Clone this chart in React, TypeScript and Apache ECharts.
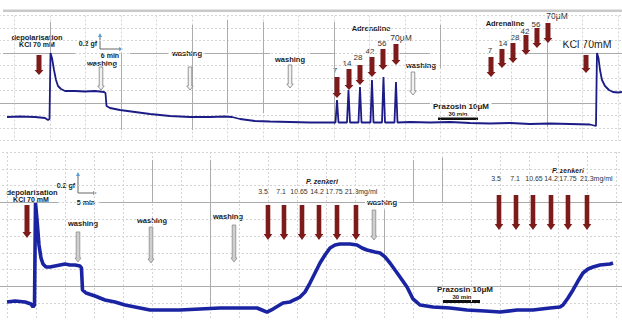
import { useEffect, useRef } from "react";
import * as echarts from "echarts";

// ---------- DATA (time in min, tension in gf) ----------
// Upper recording: KCl, washings, adrenaline cumulative doses, prazosin, adrenaline, KCl
const topTrace: [number, number][] = [
  [7.89, 0.282], [11.55, 0.288], [15.77, 0.282], [18.59, 0.27], [19.44, 0.246], [19.86, 0.258],
  [20.14, 1.05], [20.56, 0.99], [21.13, 0.846], [21.69, 0.726], [22.25, 0.654], [23.1, 0.618],
  [24.23, 0.594], [27.04, 0.594], [29.86, 0.588], [32.68, 0.594], [35.21, 0.582], [35.63, 0.57],
  [35.92, 0.414], [36.9, 0.39], [39.72, 0.366], [43.94, 0.342], [48.17, 0.318], [53.8, 0.294],
  [59.44, 0.282], [65.07, 0.282], [69.3, 0.288], [71.27, 0.282], [73.52, 0.258], [77.75, 0.234],
  [81.97, 0.228], [87.61, 0.222], [93.24, 0.216], [99.72, 0.216],
  [100.42, 0.216], [100.85, 0.486], [101.27, 0.216],
  [103.66, 0.216], [104.08, 0.606], [104.51, 0.216],
  [106.9, 0.216], [107.32, 0.642], [107.75, 0.216],
  [110.28, 0.216], [110.7, 0.726], [111.13, 0.216],
  [113.52, 0.216], [113.94, 0.762], [114.37, 0.216],
  [117.04, 0.216], [117.46, 0.702], [117.89, 0.216],
  [121.41, 0.222], [127.04, 0.216], [132.68, 0.222], [138.31, 0.21], [143.94, 0.204],
  [149.58, 0.21], [155.21, 0.198], [160.85, 0.204], [166.48, 0.198], [172.11, 0.192],
  [173.24, 0.18], [173.8, 0.174], [174.08, 1.05], [174.51, 0.99], [174.93, 0.846],
  [175.49, 0.726], [176.34, 0.654], [177.46, 0.606], [178.59, 0.582], [180.0, 0.576], [181.13, 0.582],
];

// Lower recording: KCl, washings, P. zenkeri cumulative doses, prazosin, P. zenkeri
const bottomTrace: [number, number][] = [
  [7.5, 0.161], [9.57, 0.17], [12.15, 0.161], [13.71, 0.143], [14.22, 0.116], [14.61, 0.134],
  [14.87, 1.045], [15.26, 0.893], [15.77, 0.67], [16.29, 0.554], [16.81, 0.5], [17.58, 0.473],
  [18.62, 0.473], [19.91, 0.482], [21.21, 0.491], [22.5, 0.5], [23.79, 0.491], [25.08, 0.491],
  [26.38, 0.482], [26.76, 0.464], [27.02, 0.268], [27.93, 0.241], [30.26, 0.214], [32.84, 0.179],
  [35.43, 0.161], [38.01, 0.134], [41.89, 0.107], [44.48, 0.089], [48.36, 0.089], [52.24, 0.089],
  [57.41, 0.098], [62.58, 0.107], [67.75, 0.107], [72.15, 0.107], [73.44, 0.089], [74.73, 0.071],
  [76.29, 0.098], [78.87, 0.152], [80.68, 0.161], [83.27, 0.205], [84.56, 0.25], [85.85, 0.33],
  [87.15, 0.42], [88.44, 0.509], [89.73, 0.58], [91.03, 0.643], [92.32, 0.67], [93.61, 0.679],
  [96.2, 0.679], [98.01, 0.67], [99.3, 0.643], [100.59, 0.625], [102.66, 0.607], [103.96, 0.598],
  [105.25, 0.563], [106.54, 0.509], [107.84, 0.446], [109.13, 0.384], [110.94, 0.295],
  [112.49, 0.188], [114.3, 0.134], [117.66, 0.116], [122.06, 0.107], [126.45, 0.089],
  [131.11, 0.08], [134.99, 0.071], [139.38, 0.089], [143.52, 0.089], [147.92, 0.107],
  [150.5, 0.116], [151.28, 0.134], [152.57, 0.196], [153.87, 0.268], [155.16, 0.348],
  [156.45, 0.42], [157.75, 0.455], [159.04, 0.473], [160.85, 0.491], [163.43, 0.5], [164.21, 0.509],
];

// Drug additions: [time, arrow start tension, arrow tip tension]
const topKclArrows: [number, number, number][] = [
  [16.9, 1.026, 0.786], [170.99, 1.026, 0.81],
];
const topAdrenalineArrows: [number, number, number][] = [
  [100.85, 0.762, 0.51], [104.23, 0.858, 0.606], [107.32, 0.906, 0.666],
  [110.7, 1.002, 0.762], [113.8, 1.098, 0.846], [117.46, 1.158, 0.906],
  [144.23, 1.002, 0.762], [147.32, 1.098, 0.87], [150.42, 1.17, 0.93],
  [154.08, 1.266, 1.026], [157.18, 1.35, 1.11], [160.28, 1.41, 1.17],
];
const topWashArrows: [number, number, number][] = [
  [34.37, 0.882, 0.606], [59.44, 0.882, 0.606], [87.61, 0.906, 0.63], [122.25, 0.822, 0.546],
];
const bottomKclArrows: [number, number, number][] = [[12.67, 1.027, 0.732]];
const bottomZenkeriArrows: [number, number, number][] = [
  [74.99, 1.027, 0.714], [79.13, 1.027, 0.714], [83.79, 1.027, 0.714],
  [88.18, 1.027, 0.714], [92.84, 1.027, 0.714], [97.75, 1.027, 0.714],
  [134.73, 1.116, 0.804], [139.13, 1.116, 0.804], [143.52, 1.116, 0.804],
  [148.18, 1.116, 0.804], [152.57, 1.116, 0.804], [157.49, 1.116, 0.804],
];
const bottomWashArrows: [number, number, number][] = [
  [25.86, 0.786, 0.518], [44.74, 0.83, 0.509], [66.2, 0.848, 0.518], [102.4, 0.982, 0.714],
];

// Dose labels
const adrenalineDoses = ["7", "14", "28", "42", "56", "70μM"];
const zenkeriDoses = ["3.5", "7.1", "10.65", "14.2", "17.75", "21.3mg/ml"];

// Darker chart-paper rulings: horizontal [t1, t2, v], vertical [t, v1, v2]
const topRulesH: [number, number, number][] = [
  [6.76, 27.04, 1.05], [42.54, 53.24, 1.05], [63.66, 81.97, 1.05], [93.24, 100.28, 1.05],
  [118.59, 127.04, 1.05], [154.37, 181.13, 1.05], [5.92, 127.04, 0.45], [144.51, 173.8, 0.45],
];
const topRulesV: [number, number, number][] = [
  [20, 1.422, 1.05], [40, 1.05, 0.126], [60, 1.386, 0.126], [70, 1.446, 0.33],
  [80, 1.422, 0.33], [100, 1.422, 0.186], [130, 1.386, 0.87], [160, 1.386, 0.162],
];
const bottomRulesH: [number, number, number][] = [
  [5.69, 20.69, 1.05], [31.55, 100.08, 1.05], [109.13, 166.54, 1.05], [5.69, 166.54, 0.3],
];
const bottomRulesV: [number, number, number][] = [
  [45, 1.429, 1.05], [60, 1.429, 0.089], [105, 0.982, 0.536], [112.5, 1.429, 1.05], [120, 1.446, 1.05],
];

// ---------- helpers ----------
const FONT = '"Liberation Sans", Arial, sans-serif';

function arrowRenderer(o: { sw: number; hw: number; hl: number; fill: string; stroke?: string; lw?: number }) {
  return (_p: any, api: any) => {
    const t = api.value(0);
    const a = api.coord([t, api.value(1)]);
    const b = api.coord([t, api.value(2)]);
    const x = a[0], y1 = a[1], y2 = b[1];
    return {
      type: "polygon",
      shape: {
        points: [
          [x - o.sw, y1], [x + o.sw, y1], [x + o.sw, y2 - o.hl], [x + o.hw, y2 - o.hl],
          [x, y2], [x - o.hw, y2 - o.hl], [x - o.sw, y2 - o.hl],
        ],
      },
      style: { fill: o.fill, stroke: o.stroke || "none", lineWidth: o.lw || 0 },
    };
  };
}

function rules(h: [number, number, number][], v: [number, number, number][]) {
  return [
    ...h.map(([t1, t2, y]) => ({ coords: [[t1, y], [t2, y]] })),
    ...v.map(([t, y1, y2]) => ({ coords: [[t, y1], [t, y2]] })),
  ];
}

function txt(x: number, y: number, text: string, font: string, align = "center", fill = "#1a1a1a") {
  return {
    type: "text",
    x, y,
    silent: true,
    style: { text, font, fill, align, textAlign: align, verticalAlign: "middle", textVerticalAlign: "middle" },
  };
}

function scaleBar(x: number, y0: number, y1: number, x1: number) {
  const blue = "#5b9bd5";
  return [
    { type: "line", shape: { x1: x, y1: y1, x2: x, y2: y0 + 2 }, style: { stroke: "#666", lineWidth: 1 } },
    { type: "line", shape: { x1: x, y1: y1, x2: x1 - 2, y2: y1 }, style: { stroke: "#666", lineWidth: 1 } },
    { type: "polygon", shape: { points: [[x, y0], [x - 2, y0 + 4], [x + 2, y0 + 4]] }, style: { fill: blue } },
    { type: "polygon", shape: { points: [[x1, y1], [x1 - 4, y1 - 2], [x1 - 4, y1 + 2]] }, style: { fill: blue } },
  ];
}

const B = (s: number) => `bold ${s}px ${FONT}`;
const N = (s: number) => `${s}px ${FONT}`;

export default function App() {
  const ref = useRef<HTMLDivElement>(null);
  useEffect(() => {
    document.body.style.margin = "0";
    if (!ref.current) return;
    const chart = echarts.init(ref.current, undefined, { renderer: "svg" });

    const split = { show: true, lineStyle: { color: "#d4d4d4", type: [2, 2] as any, width: 1 } };
    const axisBase = {
      type: "value" as const,
      axisLine: { show: false },
      axisTick: { show: false },
      axisLabel: { show: false },
      splitLine: split,
    };
    const red = "#7d1a1a";
    const topAdrPos: [number, number][] = [[335, 70], [347, 63.5], [358, 57], [370, 51.5], [382, 43.5], [401, 37.5]];
    const topAdrPos2: [number, number][] = [[490, 50], [503, 43], [515, 37], [525, 31], [536, 24], [557, 16]];
    const zenPos1 = [263, 281, 299, 317, 334, 361];
    const zenPos2 = [496, 515, 534, 551, 568, 580];

    const graphic: any[] = [
      { type: "rect", shape: { x: 3, y: 9.5, width: 619, height: 2.5 }, style: { fill: "#c9c9c9" } },
      txt(37, 37.5, "depolarisation", B(7.5)),
      txt(37, 44, "KCl 70 mM", B(7)),
      txt(97, 43, "0.2 gf", B(7), "right"),
      ...scaleBar(100, 33, 49, 123),
      txt(110, 55.5, "6 min", B(7)),
      txt(102, 63, "washing", B(7.5)),
      txt(187, 53, "washing", B(7.5)),
      txt(290, 59, "washing", B(7.5)),
      txt(421, 65, "washing", B(7.5)),
      txt(371, 28, "Adrenaline", B(7.5)),
      txt(505, 23, "Adrenaline", B(7.5)),
      ...adrenalineDoses.map((d, i) => txt(topAdrPos[i][0], topAdrPos[i][1], d, N(i === 5 ? 8.5 : 8), "center", "#333")),
      ...adrenalineDoses.map((d, i) => txt(topAdrPos2[i][0], topAdrPos2[i][1], d, N(i === 5 ? 8.5 : 8), "center", "#333")),
      txt(587, 44, "KCl 70mM", N(10.5), "center", "#222"),
      txt(461, 106.5, "Prazosin 10μM", B(8)),
      txt(458, 114, "30 min", B(6)),
      { type: "rect", shape: { x: 438, y: 117.5, width: 40, height: 2.5 }, style: { fill: "#111" } },

      txt(32, 192.5, "depolarisation", B(7.5)),
      txt(31, 199.5, "KCl 70 mM", B(7)),
      txt(75, 185, "0.2 gf", B(7), "right"),
      ...scaleBar(78, 172, 193, 97),
      txt(86, 202, "5 min", B(7)),
      txt(83, 223, "washing", B(7.5)),
      txt(152, 220, "washing", B(7.5)),
      txt(228, 216, "washing", B(7.5)),
      txt(382, 202, "washing", B(7.5)),
      txt(322, 181, "P. zenkeri", `italic bold 7px ${FONT}`),
      txt(568, 170, "P. zenkeri", `italic bold 7px ${FONT}`),
      ...zenkeriDoses.map((d, i) => txt(zenPos1[i], 191, d, N(7), "center", "#333")),
      ...zenkeriDoses.map((d, i) => txt(zenPos2[i], 178, d, N(7), i === 5 ? "left" : "center", "#333")),
      txt(465, 289, "Prazosin 10μM", B(8)),
      txt(462, 296.5, "30 min", B(6)),
      { type: "rect", shape: { x: 443, y: 300, width: 37, height: 3 }, style: { fill: "#111" } },
    ];

    chart.setOption({
      animation: false,
      backgroundColor: "#ffffff",
      grid: [
        { left: -21, top: 15.5, width: 643, height: 125, outerBoundsMode: "none", containLabel: false },
        { left: -22, top: 152, width: 644, height: 168, outerBoundsMode: "none", containLabel: false },
      ],
      xAxis: [
        { ...axisBase, gridIndex: 0, min: 0, max: 181.13, interval: 10 },
        { ...axisBase, gridIndex: 1, min: 0, max: 166.54, interval: 7.5 },
      ],
      yAxis: [
        { ...axisBase, gridIndex: 0, min: 0, max: 1.5, interval: 0.15 },
        { ...axisBase, gridIndex: 1, min: 0, max: 1.5, interval: 0.15 },
      ],
      series: [
        {
          type: "lines", coordinateSystem: "cartesian2d", xAxisIndex: 0, yAxisIndex: 0, silent: true, z: 1,
          lineStyle: { color: "#ababab", width: 1, opacity: 1 }, data: rules(topRulesH, topRulesV),
        },
        {
          type: "lines", coordinateSystem: "cartesian2d", xAxisIndex: 1, yAxisIndex: 1, silent: true, z: 1,
          lineStyle: { color: "#ababab", width: 1, opacity: 1 }, data: rules(bottomRulesH, bottomRulesV),
        },
        {
          type: "line", xAxisIndex: 0, yAxisIndex: 0, data: topTrace, showSymbol: false, symbol: "none", z: 3,
          lineStyle: { color: "#1c1c86", width: 1.8 }, silent: true,
        },
        {
          type: "line", xAxisIndex: 1, yAxisIndex: 1, data: bottomTrace, showSymbol: false, symbol: "none", z: 3,
          lineStyle: { color: "#1a24a2", width: 3.6 }, silent: true,
        },
        {
          type: "custom", xAxisIndex: 0, yAxisIndex: 0, data: topKclArrows, z: 4, silent: true,
          encode: { x: 0, y: [1, 2] }, renderItem: arrowRenderer({ sw: 2.5, hw: 4.5, hl: 5, fill: red }),
        },
        {
          type: "custom", xAxisIndex: 0, yAxisIndex: 0, data: topAdrenalineArrows, z: 4, silent: true,
          encode: { x: 0, y: [1, 2] }, renderItem: arrowRenderer({ sw: 2.5, hw: 4.5, hl: 5, fill: red }),
        },
        {
          type: "custom", xAxisIndex: 0, yAxisIndex: 0, data: topWashArrows, z: 4, silent: true,
          encode: { x: 0, y: [1, 2] },
          renderItem: arrowRenderer({ sw: 1.8, hw: 3.2, hl: 4, fill: "#f2f2f2", stroke: "#8a8a8a", lw: 0.9 }),
        },
        {
          type: "custom", xAxisIndex: 1, yAxisIndex: 1, data: bottomKclArrows, z: 4, silent: true,
          encode: { x: 0, y: [1, 2] }, renderItem: arrowRenderer({ sw: 2.5, hw: 4.5, hl: 6, fill: red }),
        },
        {
          type: "custom", xAxisIndex: 1, yAxisIndex: 1, data: bottomZenkeriArrows, z: 4, silent: true,
          encode: { x: 0, y: [1, 2] }, renderItem: arrowRenderer({ sw: 2.3, hw: 4.3, hl: 6, fill: red }),
        },
        {
          type: "custom", xAxisIndex: 1, yAxisIndex: 1, data: bottomWashArrows, z: 4, silent: true,
          encode: { x: 0, y: [1, 2] },
          renderItem: arrowRenderer({ sw: 1.8, hw: 3, hl: 4, fill: "#cfcfcf", stroke: "#8a8a8a", lw: 0.8 }),
        },
      ],
      graphic,
    });
    return () => chart.dispose();
  }, []);
  return <div ref={ref} style={{ width: 622, height: 320 }} />;
}
